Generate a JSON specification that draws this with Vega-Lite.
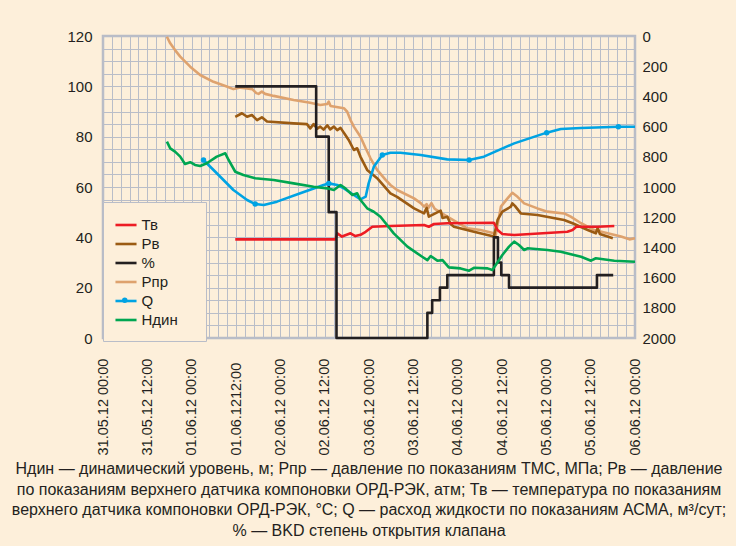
{
  "$schema": "https://vega.github.io/schema/vega-lite/v6.json",
  "width": 532,
  "height": 302,
  "autosize": "none",
  "padding": {"left": 103, "top": 36, "right": 101, "bottom": 208},
  "background": "#fdefda",
  "config": {
    "view": {"stroke": "#b9bcc6", "strokeWidth": 2.5, "fill": "#fdefda"},
    "font": "Liberation Sans",
    "axis": {
      "labelFont": "Liberation Sans",
      "labelFontSize": 15,
      "labelColor": "#231f20",
      "domain": false,
      "ticks": false,
      "gridColor": "#b9bdc8",
      "gridWidth": 1,
      "gridOpacity": 1,
      "title": null,
      "labelOverlap": false
    },
    "line": {"strokeWidth": 2.6, "strokeJoin": "round"}
  },
  "title": {
    "text": [
      "Ндин — динамический уровень, м; Рпр — давление по показаниям ТМС, МПа; Рв — давление",
      "по показаниям верхнего датчика компоновки ОРД-РЭК, атм; Тв — температура по показаниям",
      "верхнего датчика компоновки ОРД-РЭК, °С; Q — расход жидкости по показаниям АСМА, м³/сут;",
      "% — ВKD степень открытия клапана"
    ],
    "orient": "bottom",
    "anchor": "middle",
    "font": "Liberation Sans",
    "fontSize": 16,
    "fontWeight": "normal",
    "color": "#231f20",
    "lineHeight": 20.5,
    "offset": 6
  },
  "datasets": {
    "left": [
      {"s": "Рпр", "t": 17.3, "v": 119.7}, {"s": "Рпр", "t": 18.2, "v": 117.1}, {"s": "Рпр", "t": 19.5, "v": 114.4}, {"s": "Рпр", "t": 20.9, "v": 111.8}, {"s": "Рпр", "t": 23.6, "v": 107.8}, {"s": "Рпр", "t": 26.3, "v": 104.5}, {"s": "Рпр", "t": 29.9, "v": 101.8}, {"s": "Рпр", "t": 33.5, "v": 99.9}, {"s": "Рпр", "t": 35.3, "v": 98.9}, {"s": "Рпр", "t": 37.2, "v": 99.5}, {"s": "Рпр", "t": 39, "v": 99.2}, {"s": "Рпр", "t": 40.4, "v": 98.9}, {"s": "Рпр", "t": 41.5, "v": 97.3}, {"s": "Рпр", "t": 42.1, "v": 97}, {"s": "Рпр", "t": 43, "v": 97.9}, {"s": "Рпр", "t": 43.9, "v": 97}, {"s": "Рпр", "t": 46.2, "v": 96.2}, {"s": "Рпр", "t": 51.6, "v": 94.6}, {"s": "Рпр", "t": 56.1, "v": 93.5}, {"s": "Рпр", "t": 58.8, "v": 92.6}, {"s": "Рпр", "t": 60.7, "v": 93}, {"s": "Рпр", "t": 61.1, "v": 93.9}, {"s": "Рпр", "t": 61.6, "v": 92.2}, {"s": "Рпр", "t": 65.2, "v": 91.3}, {"s": "Рпр", "t": 66.1, "v": 89.9}, {"s": "Рпр", "t": 67, "v": 86.6}, {"s": "Рпр", "t": 67.9, "v": 84}, {"s": "Рпр", "t": 69.7, "v": 80}, {"s": "Рпр", "t": 71.1, "v": 75.4}, {"s": "Рпр", "t": 72.4, "v": 71.4}, {"s": "Рпр", "t": 74.2, "v": 66.8}, {"s": "Рпр", "t": 76.5, "v": 62.8}, {"s": "Рпр", "t": 77.8, "v": 60.8}, {"s": "Рпр", "t": 79.6, "v": 58.8}, {"s": "Рпр", "t": 84.2, "v": 55.5}, {"s": "Рпр", "t": 86, "v": 53.6}, {"s": "Рпр", "t": 86.9, "v": 52.2}, {"s": "Рпр", "t": 87.6, "v": 53.2}, {"s": "Рпр", "t": 88.1, "v": 51.7}, {"s": "Рпр", "t": 88.9, "v": 53.6}, {"s": "Рпр", "t": 89.8, "v": 51.3}, {"s": "Рпр", "t": 93.2, "v": 48.2}, {"s": "Рпр", "t": 98.6, "v": 43.6}, {"s": "Рпр", "t": 102.2, "v": 42.9}, {"s": "Рпр", "t": 105.8, "v": 41.6}, {"s": "Рпр", "t": 106.3, "v": 40.9}, {"s": "Рпр", "t": 107.7, "v": 52.2}, {"s": "Рпр", "t": 109.5, "v": 55.5}, {"s": "Рпр", "t": 110.8, "v": 57.7}, {"s": "Рпр", "t": 112.2, "v": 56.1}, {"s": "Рпр", "t": 114, "v": 53.5}, {"s": "Рпр", "t": 117.6, "v": 51.5}, {"s": "Рпр", "t": 120.3, "v": 50.2}, {"s": "Рпр", "t": 124.8, "v": 49.5}, {"s": "Рпр", "t": 126.6, "v": 48.2}, {"s": "Рпр", "t": 129.4, "v": 45.6}, {"s": "Рпр", "t": 133, "v": 42.9}, {"s": "Рпр", "t": 136.6, "v": 41.6}, {"s": "Рпр", "t": 140.2, "v": 40.3}, {"s": "Рпр", "t": 142.5, "v": 39.2}, {"s": "Рпр", "t": 144, "v": 39.6},
      {"s": "Рв", "t": 35.8, "v": 87.9}, {"s": "Рв", "t": 37.6, "v": 89.3}, {"s": "Рв", "t": 39, "v": 87.9}, {"s": "Рв", "t": 40.3, "v": 88.6}, {"s": "Рв", "t": 41.7, "v": 86.6}, {"s": "Рв", "t": 43, "v": 87.7}, {"s": "Рв", "t": 44.4, "v": 86}, {"s": "Рв", "t": 51.6, "v": 85.3}, {"s": "Рв", "t": 55.2, "v": 85}, {"s": "Рв", "t": 56.1, "v": 83.3}, {"s": "Рв", "t": 57, "v": 85}, {"s": "Рв", "t": 58, "v": 83.2}, {"s": "Рв", "t": 58.8, "v": 84}, {"s": "Рв", "t": 59.7, "v": 82.8}, {"s": "Рв", "t": 60.7, "v": 84.5}, {"s": "Рв", "t": 61.5, "v": 82.9}, {"s": "Рв", "t": 62.5, "v": 84}, {"s": "Рв", "t": 63.4, "v": 82.6}, {"s": "Рв", "t": 64.3, "v": 83.5}, {"s": "Рв", "t": 65.6, "v": 80.7}, {"s": "Рв", "t": 66.5, "v": 78.7}, {"s": "Рв", "t": 67.9, "v": 74.7}, {"s": "Рв", "t": 68.8, "v": 75.4}, {"s": "Рв", "t": 69.7, "v": 72}, {"s": "Рв", "t": 71.5, "v": 66.8}, {"s": "Рв", "t": 74.2, "v": 63.5}, {"s": "Рв", "t": 77.8, "v": 57.5}, {"s": "Рв", "t": 79.6, "v": 56.1}, {"s": "Рв", "t": 84.2, "v": 51.5}, {"s": "Рв", "t": 86.9, "v": 49.5}, {"s": "Рв", "t": 87.6, "v": 51.7}, {"s": "Рв", "t": 88.2, "v": 48.2}, {"s": "Рв", "t": 91.4, "v": 50.6}, {"s": "Рв", "t": 91.9, "v": 47.7}, {"s": "Рв", "t": 93.2, "v": 48.2}, {"s": "Рв", "t": 94.1, "v": 45.3}, {"s": "Рв", "t": 95, "v": 44.2}, {"s": "Рв", "t": 100.4, "v": 42.2}, {"s": "Рв", "t": 105.8, "v": 40.3}, {"s": "Рв", "t": 106.8, "v": 46.9}, {"s": "Рв", "t": 108.1, "v": 50.2}, {"s": "Рв", "t": 110.4, "v": 52.2}, {"s": "Рв", "t": 110.8, "v": 53.5}, {"s": "Рв", "t": 111.5, "v": 52.5}, {"s": "Рв", "t": 113.1, "v": 49.5}, {"s": "Рв", "t": 117.6, "v": 48.9}, {"s": "Рв", "t": 124.8, "v": 46.9}, {"s": "Рв", "t": 127.1, "v": 45.6}, {"s": "Рв", "t": 131.2, "v": 42.9}, {"s": "Рв", "t": 133.4, "v": 41.6}, {"s": "Рв", "t": 133.9, "v": 43.7}, {"s": "Рв", "t": 134.5, "v": 41.3}, {"s": "Рв", "t": 138, "v": 39.6},
      {"s": "Тв", "t": 35.8, "v": 39.2}, {"s": "Тв", "t": 62.9, "v": 39.2}, {"s": "Тв", "t": 63.4, "v": 41.6}, {"s": "Тв", "t": 64.7, "v": 40.3}, {"s": "Тв", "t": 67, "v": 41.6}, {"s": "Тв", "t": 68.3, "v": 40.5}, {"s": "Тв", "t": 69.7, "v": 41}, {"s": "Тв", "t": 71.1, "v": 42.2}, {"s": "Тв", "t": 72.9, "v": 44.2}, {"s": "Тв", "t": 77.8, "v": 44.5}, {"s": "Тв", "t": 86.9, "v": 44.9}, {"s": "Тв", "t": 88.2, "v": 44.2}, {"s": "Тв", "t": 89.6, "v": 45.3}, {"s": "Тв", "t": 93.2, "v": 45.6}, {"s": "Тв", "t": 105.8, "v": 45.8}, {"s": "Тв", "t": 106.8, "v": 42.9}, {"s": "Тв", "t": 108.1, "v": 41.3}, {"s": "Тв", "t": 111.3, "v": 40.9}, {"s": "Тв", "t": 125.7, "v": 42.2}, {"s": "Тв", "t": 127.1, "v": 42.9}, {"s": "Тв", "t": 128.1, "v": 44.2}, {"s": "Тв", "t": 133.9, "v": 44.2}, {"s": "Тв", "t": 138.4, "v": 44.5}
    ],
    "pct": [
      {"s": "%", "t": 35.8, "v": 100}, {"s": "%", "t": 57.7, "v": 80}, {"s": "%", "t": 61.1, "v": 50}, {"s": "%", "t": 63.2, "v": 0}, {"s": "%", "t": 87.8, "v": 10}, {"s": "%", "t": 89.1, "v": 15}, {"s": "%", "t": 91.2, "v": 20}, {"s": "%", "t": 93.2, "v": 25}, {"s": "%", "t": 105.8, "v": 40}, {"s": "%", "t": 106.9, "v": 30}, {"s": "%", "t": 107.8, "v": 25}, {"s": "%", "t": 109.9, "v": 20}, {"s": "%", "t": 133.7, "v": 25}, {"s": "%", "t": 138.1, "v": 25}
    ],
    "right": [
      {"s": "Q", "t": 27.2, "r": 821}, {"s": "Q", "t": 30.8, "r": 909}, {"s": "Q", "t": 35.3, "r": 1020}, {"s": "Q", "t": 39, "r": 1086}, {"s": "Q", "t": 41.2, "r": 1113}, {"s": "Q", "t": 43.5, "r": 1119}, {"s": "Q", "t": 47.1, "r": 1097}, {"s": "Q", "t": 53.4, "r": 1042}, {"s": "Q", "t": 59.7, "r": 987}, {"s": "Q", "t": 61.1, "r": 976}, {"s": "Q", "t": 63.4, "r": 987}, {"s": "Q", "t": 65.2, "r": 1009}, {"s": "Q", "t": 67.9, "r": 1053}, {"s": "Q", "t": 69.7, "r": 1082}, {"s": "Q", "t": 71.1, "r": 1064}, {"s": "Q", "t": 71.9, "r": 976}, {"s": "Q", "t": 73.3, "r": 866}, {"s": "Q", "t": 75.6, "r": 788}, {"s": "Q", "t": 77.8, "r": 773}, {"s": "Q", "t": 80.5, "r": 773}, {"s": "Q", "t": 86, "r": 788}, {"s": "Q", "t": 93.2, "r": 817}, {"s": "Q", "t": 99.1, "r": 821}, {"s": "Q", "t": 103.1, "r": 799}, {"s": "Q", "t": 111.3, "r": 711}, {"s": "Q", "t": 120.1, "r": 640}, {"s": "Q", "t": 123.9, "r": 616}, {"s": "Q", "t": 129.4, "r": 609}, {"s": "Q", "t": 139.5, "r": 601}, {"s": "Q", "t": 144, "r": 601},
      {"s": "Ндин", "t": 17.3, "r": 700}, {"s": "Ндин", "t": 18.2, "r": 744}, {"s": "Ндин", "t": 19.5, "r": 766}, {"s": "Ндин", "t": 20.9, "r": 799}, {"s": "Ндин", "t": 22.2, "r": 848}, {"s": "Ндин", "t": 23.6, "r": 836}, {"s": "Ндин", "t": 24.9, "r": 854}, {"s": "Ндин", "t": 26.3, "r": 861}, {"s": "Ндин", "t": 28.1, "r": 843}, {"s": "Ндин", "t": 30.8, "r": 799}, {"s": "Ндин", "t": 33.1, "r": 777}, {"s": "Ндин", "t": 34, "r": 821}, {"s": "Ндин", "t": 35.8, "r": 899}, {"s": "Ндин", "t": 38, "r": 921}, {"s": "Ндин", "t": 41.2, "r": 942}, {"s": "Ндин", "t": 46.2, "r": 954}, {"s": "Ндин", "t": 51.6, "r": 976}, {"s": "Ндин", "t": 57, "r": 998}, {"s": "Ндин", "t": 60.7, "r": 1009}, {"s": "Ндин", "t": 62.5, "r": 1020}, {"s": "Ндин", "t": 64.3, "r": 987}, {"s": "Ндин", "t": 65.6, "r": 1009}, {"s": "Ндин", "t": 67.5, "r": 1053}, {"s": "Ндин", "t": 68.8, "r": 1042}, {"s": "Ндин", "t": 69.7, "r": 1086}, {"s": "Ндин", "t": 71.5, "r": 1141}, {"s": "Ндин", "t": 73.3, "r": 1164}, {"s": "Ндин", "t": 75.1, "r": 1197}, {"s": "Ндин", "t": 78.7, "r": 1307}, {"s": "Ндин", "t": 82.4, "r": 1395}, {"s": "Ндин", "t": 86.4, "r": 1462}, {"s": "Ндин", "t": 87.8, "r": 1484}, {"s": "Ндин", "t": 88.7, "r": 1457}, {"s": "Ндин", "t": 90.5, "r": 1488}, {"s": "Ндин", "t": 91.9, "r": 1484}, {"s": "Ндин", "t": 93.6, "r": 1532}, {"s": "Ндин", "t": 96.8, "r": 1539}, {"s": "Ндин", "t": 99.1, "r": 1554}, {"s": "Ндин", "t": 100.4, "r": 1535}, {"s": "Ндин", "t": 104.1, "r": 1539}, {"s": "Ндин", "t": 105.4, "r": 1550}, {"s": "Ндин", "t": 106.3, "r": 1517}, {"s": "Ндин", "t": 108.1, "r": 1450}, {"s": "Ндин", "t": 109.9, "r": 1395}, {"s": "Ндин", "t": 111.3, "r": 1362}, {"s": "Ндин", "t": 112.6, "r": 1384}, {"s": "Ндин", "t": 114, "r": 1417}, {"s": "Ндин", "t": 114.9, "r": 1406}, {"s": "Ндин", "t": 120.3, "r": 1417}, {"s": "Ндин", "t": 123.9, "r": 1429}, {"s": "Ндин", "t": 129.4, "r": 1462}, {"s": "Ндин", "t": 132.1, "r": 1488}, {"s": "Ндин", "t": 133.4, "r": 1472}, {"s": "Ндин", "t": 138.4, "r": 1488}, {"s": "Ндин", "t": 144, "r": 1495}
    ],
    "qdots": [
      {"m": "Q", "t": 27.2, "r": 821}, {"m": "Q", "t": 41.2, "r": 1113}, {"m": "Q", "t": 61.1, "r": 976}, {"m": "Q", "t": 75.6, "r": 788}, {"m": "Q", "t": 99.1, "r": 821}, {"m": "Q", "t": 120.1, "r": 640}, {"m": "Q", "t": 139.5, "r": 601}
    ]
  },
  "encoding": {
    "x": {
      "field": "t",
      "type": "quantitative",
      "scale": {"domain": [0, 144], "nice": false, "zero": false},
      "axis": {
        "values": [0, 2.4, 4.8, 7.2, 9.6, 12, 14.4, 16.8, 19.2, 21.6, 24, 26.4, 28.8, 31.2, 33.6, 36, 38.4, 40.8, 43.2, 45.6, 48, 50.4, 52.8, 55.2, 57.6, 60, 62.4, 64.8, 67.2, 69.6, 72, 74.4, 76.8, 79.2, 81.6, 84, 86.4, 88.8, 91.2, 93.6, 96, 98.4, 100.8, 103.2, 105.6, 108, 110.4, 112.8, 115.2, 117.6, 120, 122.4, 124.8, 127.2, 129.6, 132, 134.4, 136.8, 139.2, 141.6, 144],
        "labelExpr": "datum.value % 12 === 0 ? ['31.05.12 00:00','31.05.12 12:00','01.06.12 00:00','01.06.1212:00','02.06.12 00:00','02.06.12 12:00','03.06.12 00:00','03.06.12 12:00','04.06.12 00:00','04.06.12 12:00','05.06.12 00:00','05.06.12 12:00','06.06.12 00:00'][datum.value / 12] : ''",
        "labelAngle": 270,
        "labelAlign": "left",
        "labelBaseline": "middle",
        "labelFontSize": 14.5,
        "labelPadding": 117,
        "labelBound": false,
        "labelFlush": false,
        "grid": true
      }
    },
    "color": {
      "field": "s",
      "type": "nominal",
      "scale": {
        "domain": ["Тв", "Рв", "%", "Рпр", "Q", "Ндин"],
        "range": ["#ed1c24", "#9b5b13", "#231f20", "#dea26e", "#00a3e3", "#00a651"]
      },
      "legend": {
        "orient": "none",
        "legendX": 0,
        "legendY": 166,
        "fillColor": "#fdefda",
        "strokeColor": "#b9bdc8",
        "padding": 12.5,
        "labelFont": "Liberation Sans",
        "labelFontSize": 15,
        "labelColor": "#231f20",
        "rowPadding": 0,
        "symbolType": "M-1.17,0L1.17,0",
        "symbolSize": 324,
        "symbolStrokeWidth": 3,
        "labelOffset": 5,
        "title": "\u00a0",
        "titleOrient": "right",
        "titlePadding": 16,
        "zindex": 0
      }
    }
  },
  "layer": [
    {
      "encoding": {
        "y": {
          "field": "v",
          "type": "quantitative",
          "scale": {"domain": [0, 120], "nice": false, "zero": false},
          "axis": {
            "orient": "left",
            "values": [0, 5, 10, 15, 20, 25, 30, 35, 40, 45, 50, 55, 60, 65, 70, 75, 80, 85, 90, 95, 100, 105, 110, 115, 120],
            "labelExpr": "datum.value % 20 === 0 ? datum.label : ''",
            "labelPadding": 11,
            "grid": true
          }
        }
      },
      "layer": [
        {"data": {"name": "left"}, "mark": {"type": "line"}},
        {"data": {"name": "pct"}, "mark": {"type": "line", "interpolate": "step-after"}}
      ]
    },
    {
      "encoding": {
        "y": {
          "field": "r",
          "type": "quantitative",
          "scale": {"domain": [0, 2000], "nice": false, "zero": false, "reverse": true},
          "axis": {
            "orient": "right",
            "values": [0, 200, 400, 600, 800, 1000, 1200, 1400, 1600, 1800, 2000],
            "format": "d",
            "labelPadding": 7,
            "grid": false
          }
        }
      },
      "layer": [
        {"data": {"name": "right"}, "mark": {"type": "line"}},
        {
          "data": {"name": "qdots"},
          "mark": {"type": "point", "filled": true, "size": 30, "opacity": 1},
          "encoding": {
            "color": {"value": "#00a3e3"},
            "shape": {
              "field": "m",
              "type": "nominal",
              "scale": {"domain": ["Q"], "range": ["circle"]},
              "legend": {
                "orient": "none",
                "legendX": 18.75,
                "legendY": 261.3,
                "title": null,
                "padding": 0,
                "labelExpr": "''",
                "labelFontSize": 1,
                "labelOffset": 0,
                "symbolSize": 30,
                "symbolFillColor": "#00a3e3",
                "symbolStrokeColor": "#00a3e3",
                "symbolStrokeWidth": 0,
                "symbolOpacity": 1,
                "zindex": 5
              }
            }
          }
        }
      ]
    }
  ],
  "resolve": {"scale": {"y": "independent"}}
}
